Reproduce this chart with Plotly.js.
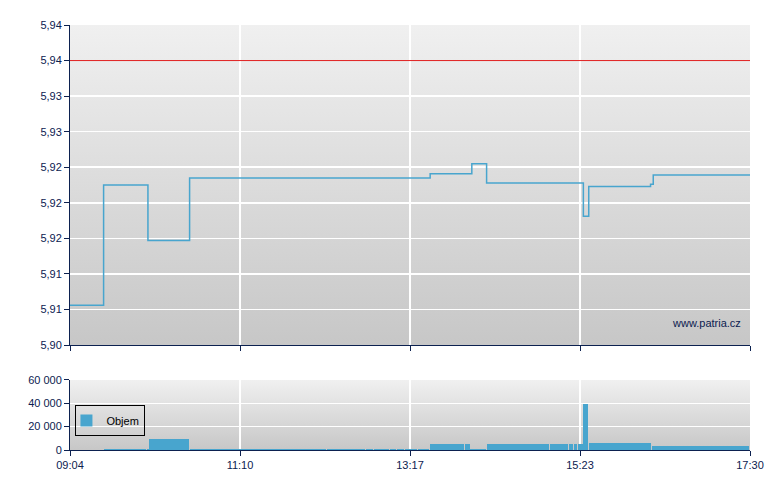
<!DOCTYPE html>
<html>
<head>
<meta charset="utf-8">
<script src="https://cdn.plot.ly/plotly-3.0.1.min.js"></script>
<style>
  html, body { margin: 0; padding: 0; background: #fff; }
  #chart { width: 780px; height: 490px; }
</style>
</head>
<body>
<div id="chart"></div>
<script>
// -----------------------------
// Data
// -----------------------------
const DAY = "2024-01-01 ";

const priceTimes = ["09:04", "09:29", "10:02", "10:33", "13:32", "14:03", "14:14", "15:26", "15:30", "16:16", "16:18", "17:30"];
const prices = [5.9056, 5.9225, 5.9147, 5.9235, 5.9241, 5.9255, 5.9228, 5.9181, 5.9223, 5.9226, 5.9239, 5.9239];
const refPrice = 5.94;

const volTimes = ["09:29", "10:01", "10:03", "10:33", "11:39", "12:15", "12:37", "12:44", "12:50", "12:55",
  "13:02", "13:07", "13:13", "13:23", "13:27", "13:32", "13:35", "13:44", "13:53", "13:58",
  "14:02", "14:14", "14:57", "15:01", "15:15", "15:19", "15:22", "15:26", "15:30", "15:58",
  "16:17", "16:53", "17:11", "17:19"];
const volValues = [1200, 1000, 9500, 1000, 1000, 1000, 900, 900, 900, 900,
  900, 900, 1000, 1000, 1000, 5000, 5000, 5000, 5000, 5000,
  1000, 5000, 5000, 5000, 5000, 5000, 5000, 39500, 6000, 6000,
  3700, 3700, 3700, 3700];
const volEnd = "17:30";

const priceTickVals = [5.900, 5.905, 5.910, 5.915, 5.920, 5.925, 5.930, 5.935, 5.940, 5.945];
const priceTickText = ["5,90", "5,91", "5,91", "5,92", "5,92", "5,92", "5,93", "5,93", "5,94", "5,94"];
const volTickVals = [0, 20000, 40000, 60000];
const volTickText = ["0", "20 000", "40 000", "60 000"];
const timeTickVals = ["09:04", "11:10:30", "13:17", "15:23:30", "17:30"];
const timeTickText = ["09:04", "11:10", "13:17", "15:23", "17:30"];

// -----------------------------
// Helpers
// -----------------------------
const NAVY = "#0c2150";
const BLUE = "#48a5ce";
const toDate = (t) => DAY + t;
const toMs = (t) => new Date((DAY + t).replace(" ", "T")).getTime();

const gradientSvg =
  "<svg xmlns='http://www.w3.org/2000/svg' width='10' height='100' preserveAspectRatio='none'>" +
  "<defs><linearGradient id='g' x1='0' y1='0' x2='0' y2='1'>" +
  "<stop offset='0' stop-color='#f0f0f0'/><stop offset='1' stop-color='#c7c7c7'/>" +
  "</linearGradient></defs><rect width='10' height='100' fill='url(#g)'/></svg>";
const gradientSrc = "data:image/svg+xml;charset=utf-8," + encodeURIComponent(gradientSvg);

// bar widths: from each trade to the next one, minus a hair for the separator
const volWidths = volTimes.map((t, i) => {
  const next = i < volTimes.length - 1 ? volTimes[i + 1] : volEnd;
  return toMs(next) - toMs(t) - 30000;
});

// -----------------------------
// Traces
// -----------------------------
const priceTrace = {
  type: "scatter",
  mode: "lines",
  x: priceTimes.map(toDate),
  y: prices,
  xaxis: "x",
  yaxis: "y",
  line: { shape: "hv", width: 1.5, color: BLUE },
  showlegend: false,
  hoverinfo: "skip"
};

const volTrace = {
  type: "bar",
  x: volTimes.map(toDate),
  y: volValues,
  width: volWidths,
  offset: 0,
  xaxis: "x2",
  yaxis: "y2",
  name: "Objem",
  marker: { color: BLUE, line: { width: 0 } },
  hoverinfo: "skip"
};

// -----------------------------
// Layout
// -----------------------------
const xCommon = {
  type: "date",
  range: [toDate(timeTickVals[0]), toDate(volEnd)],
  tickmode: "array",
  tickvals: timeTickVals.map(toDate),
  ticktext: timeTickText,
  ticks: "outside",
  ticklen: 5,
  tickcolor: NAVY,
  showline: true,
  linecolor: NAVY,
  linewidth: 1,
  showgrid: true,
  gridcolor: "#ffffff",
  gridwidth: 1.5,
  zeroline: false,
  fixedrange: true
};

const yCommon = {
  tickmode: "array",
  ticks: "outside",
  ticklen: 5,
  tickcolor: NAVY,
  showline: true,
  linecolor: NAVY,
  linewidth: 1,
  showgrid: true,
  gridcolor: "#ffffff",
  gridwidth: 1.5,
  zeroline: false,
  fixedrange: true
};

const layout = {
  width: 780,
  height: 490,
  margin: { l: 70, r: 30, t: 25, b: 40 },
  paper_bgcolor: "#ffffff",
  plot_bgcolor: "rgba(0,0,0,0)",
  font: { family: "Liberation Sans, Arial, sans-serif", size: 11, color: NAVY },
  bargap: 0,
  showlegend: true,
  legend: {
    x: 0.008,
    y: 0.106,
    xanchor: "left",
    yanchor: "top",
    bgcolor: "rgba(0,0,0,0)",
    bordercolor: "#000000",
    borderwidth: 1,
    itemwidth: 30,
    indentation: -10,
    font: { size: 11, color: "#000000" }
  },
  xaxis: { ...xCommon, anchor: "y", showticklabels: false },
  yaxis: {
    ...yCommon,
    domain: [0.247, 1],
    range: [priceTickVals[0], priceTickVals[priceTickVals.length - 1]],
    tickvals: priceTickVals,
    ticktext: priceTickText
  },
  xaxis2: { ...xCommon, anchor: "y2", matches: "x", showticklabels: true },
  yaxis2: {
    ...yCommon,
    domain: [0, 0.165],
    range: [volTickVals[0], volTickVals[volTickVals.length - 1]],
    tickvals: volTickVals,
    ticktext: volTickText
  },
  images: [
    { source: gradientSrc, xref: "x domain", yref: "y domain", x: 0, y: 1, sizex: 1, sizey: 1,
      xanchor: "left", yanchor: "top", sizing: "stretch", layer: "below" },
    { source: gradientSrc, xref: "x2 domain", yref: "y2 domain", x: 0, y: 1, sizex: 1, sizey: 1,
      xanchor: "left", yanchor: "top", sizing: "stretch", layer: "below" }
  ],
  shapes: [
    {
      type: "line",
      xref: "x domain", yref: "y",
      x0: 0, x1: 1, y0: refPrice, y1: refPrice,
      line: { color: "#e02020", width: 1 },
      layer: "above"
    }
  ],
  annotations: [
    {
      text: "www.patria.cz",
      xref: "x domain", yref: "y domain",
      x: 0.99, y: 0.069,
      xanchor: "right", yanchor: "middle",
      showarrow: false,
      font: { size: 11, color: NAVY }
    }
  ]
};

Plotly.newPlot("chart", [priceTrace, volTrace], layout, { displayModeBar: false, staticPlot: true });
</script>
</body>
</html>
